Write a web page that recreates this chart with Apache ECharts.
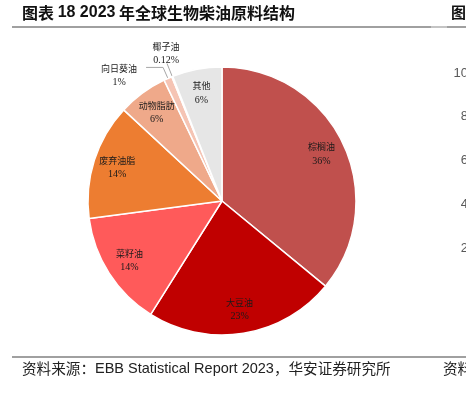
<!DOCTYPE html>
<html><head><meta charset="utf-8">
<script src="https://cdn.jsdelivr.net/npm/echarts@6/dist/echarts.min.js"></script>
<style>html,body{margin:0;padding:0;background:#fff}#c{width:466px;height:396px}</style>
</head><body><div id="c"></div>
<script>
// ---- data ----
const categories = ['棕榈油', '大豆油', '菜籽油', '废弃油脂', '动物脂肪', '向日葵油', '椰子油', '其他'];
const shares = [36, 23, 14, 14, 6, 1, 0.12, 6];
const pctLabels = ['36%', '23%', '14%', '14%', '6%', '1%', '0.12%', '6%'];
const outsideNames = ['向日葵油', '椰子油'];
const sliceColors = ['#C0504D', '#C00000', '#FF5A5A', '#ED7D31', '#EFA98A', '#F5C4B4', '#FADCD0', '#E6E6E6'];
const sideAxisTicks = [2, 4, 6, 8, 10];
const titlePieces = [['c', '图表 '], ['n', '18 2023'], ['c', ' 年全球生物柴油原料结构']];
const sourcePieces = [['c', '资料来源：'], ['l', 'EBB Statistical Report 2023'], ['c', '，华安证券研究所']];

const CJK = '"Noto Sans CJK SC"';
const chart = echarts.init(document.getElementById('c'), null, { renderer: 'canvas' });

function labelText(i) {
  return '{n|' + categories[i] + '}\n{p|' + pctLabels[i] + '}';
}
const richLbl = {
  n: { fontFamily: CJK, fontSize: 9, color: '#1a1a1a', lineHeight: 14, width: 44, align: 'center' },
  p: { fontFamily: '"Liberation Serif"', fontSize: 10, color: '#1a1a1a', lineHeight: 14, width: 44, align: 'center' }
};

const mainData = categories.map((name, i) => {
  const d = { name: name, value: shares[i], itemStyle: { color: sliceColors[i] } };
  if (outsideNames.indexOf(name) >= 0) {
    const isCoco = name === '椰子油';
    d.label = { show: true, position: 'outside', formatter: () => labelText(i), rich: richLbl };
    d.labelLine = { show: true, length: isCoco ? 14 : 12, length2: isCoco ? 0 : 17, lineStyle: { color: '#A6A6A6', width: 1 } };
  }
  return d;
});
const ringData = categories.map((name, i) => ({
  name: name, value: shares[i],
  label: { show: outsideNames.indexOf(name) < 0, formatter: () => labelText(i) }
}));

chart.setOption({
  animation: false,
  backgroundColor: '#fff',
  grid: { left: 476, top: 73, bottom: 148, width: 60 },
  xAxis: { type: 'category', data: [''], show: false },
  yAxis: {
    type: 'value', min: 2, max: 10, interval: 2, position: 'left',
    axisLine: { show: false }, axisTick: { show: false }, splitLine: { show: false },
    axisLabel: { margin: 8, color: '#595959', fontFamily: '"Liberation Sans"', fontSize: 13,
      formatter: v => (sideAxisTicks.indexOf(v) >= 0 ? String(v) : '') }
  },
  series: [
    {
      type: 'pie', center: [222, 201], radius: [0, 134], startAngle: 90, clockwise: true,
      avoidLabelOverlap: false, silent: true,
      itemStyle: { borderColor: '#fff', borderWidth: 1.5 },
      label: { show: false },
      labelLine: { show: false },
      labelLayout: function (p) {
        if (p.dataIndex === 6) return { align: 'center', verticalAlign: 'bottom', dx: 4, dy: 4 };
        if (p.dataIndex === 5) return { dy: 8 };
      },
      data: mainData
    },
    {
      type: 'pie', center: [222, 201], radius: [80, 134], startAngle: 90, clockwise: true,
      silent: true, avoidLabelOverlap: false,
      itemStyle: { color: 'rgba(0,0,0,0)', borderWidth: 0 },
      label: { show: true, position: 'inside', rich: richLbl },
      labelLine: { show: false },
      data: ringData
    }
  ],
  graphic: [
    { type: 'text', left: 22, top: 5, style: {
        text: titlePieces.map(p => '{' + p[0] + '|' + p[1] + '}').join(''),
        rich: {
          c: { fontFamily: CJK, fontWeight: 'bold', fontSize: 16, fill: '#111' },
          n: { fontFamily: '"Liberation Sans"', fontWeight: 'bold', fontSize: 16, fill: '#111' }
        } } },
    { type: 'text', left: 451, top: 5, style: { text: '图', fontFamily: CJK, fontWeight: 'bold', fontSize: 15, fill: '#111' } },
    { type: 'line', shape: { x1: 12, y1: 27, x2: 431, y2: 27 }, style: { stroke: '#808080', lineWidth: 1.5 } },
    { type: 'line', shape: { x1: 431, y1: 27, x2: 447, y2: 27 }, style: { stroke: '#b0b0b0', lineWidth: 1.5 } },
    { type: 'line', shape: { x1: 447, y1: 27, x2: 466, y2: 27 }, style: { stroke: '#808080', lineWidth: 1.5 } },
    { type: 'line', shape: { x1: 12, y1: 357, x2: 466, y2: 357 }, style: { stroke: '#808080', lineWidth: 1.5 } },
    { type: 'text', left: 22, top: 361, style: {
        text: sourcePieces.map(p => '{' + p[0] + '|' + p[1] + '}').join(''),
        rich: {
          c: { fontFamily: CJK, fontSize: 14.6, fill: '#222' },
          l: { fontFamily: '"Liberation Sans"', fontSize: 14.5, fill: '#222' }
        } } },
    { type: 'text', left: 443, top: 361, style: { text: '资料', fontFamily: CJK, fontSize: 14.6, fill: '#222' } }
  ]
});
</script></body></html>
